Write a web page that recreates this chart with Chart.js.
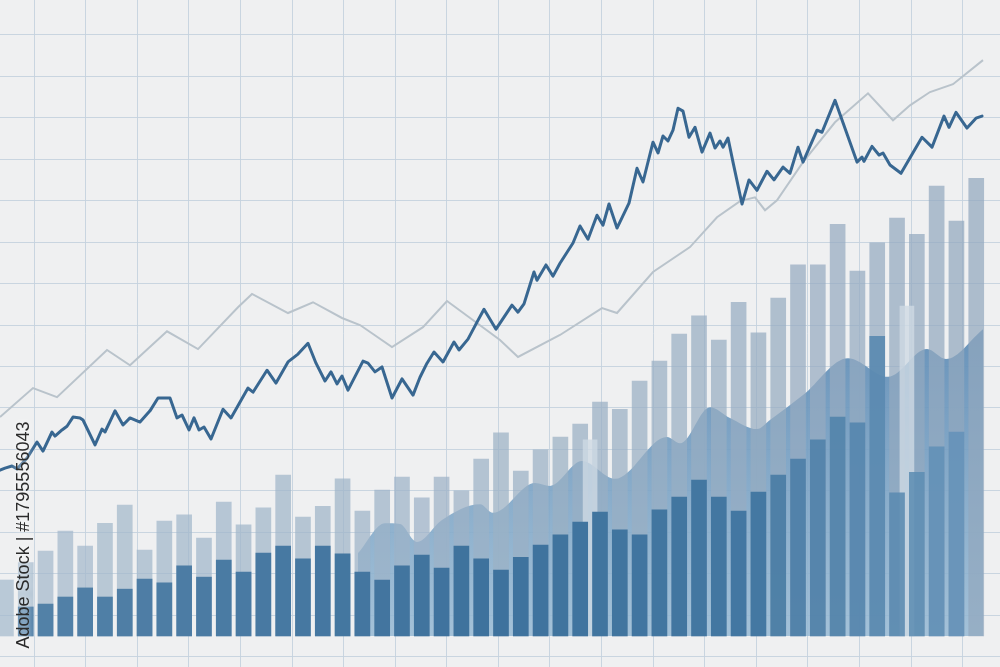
<!DOCTYPE html>
<html>
<head>
<meta charset="utf-8">
<script src="https://cdn.jsdelivr.net/npm/chart.js@4.4.1/dist/chart.umd.min.js"></script>
<style>
  html, body { margin: 0; padding: 0; background: #eff0f1; overflow: hidden; }
  #wrap { width: 1000px; height: 667px; }
</style>
</head>
<body>
<div id="wrap"><canvas id="chart" width="1000" height="667"></canvas></div>
<script>
// bar slots 0..49 (slot 0 is cut by the left edge)
const lightBars = [13.5, 17.7, 20.5, 25.3, 21.7, 27.2, 31.6, 20.7, 27.7, 29.2,
  23.6, 32.3, 26.8, 30.9, 38.8, 28.7, 31.3, 37.9, 30.1, 35.2,
  38.3, 33.3, 38.3, 35.0, 42.7, 49.0, 39.8, 44.9, 48.0, 51.1,
  56.4, 54.7, 61.5, 66.3, 72.8, 77.2, 71.4, 80.5, 73.1, 81.5,
  89.5, 89.5, 99.3, 88.0, 94.8, 100.8, 96.9, 108.5, 100.1, 110.4];

const darkBars = [null, 7.0, 7.7, 9.4, 11.6, 9.4, 11.3, 13.7, 12.8, 16.9,
  14.2, 18.3, 15.4, 20.0, 21.7, 18.6, 21.7, 19.8, 15.4, 13.5,
  16.9, 19.5, 16.4, 21.7, 18.6, 15.9, 19.0, 21.9, 24.4, 27.5,
  29.9, 25.6, 24.4, 30.4, 33.5, 37.6, 33.5, 30.1, 34.7, 38.8,
  42.7, 47.3, 52.8, 51.4, 72.3, 34.5, 39.5, 45.6, 49.2];

// two pale bars sitting between slots
const ghostSlots = [29.5, 45.5];
const ghostBars = [47.3, 79.6];

// jagged price line (x = % of time span)
const priceX = [0, 0.5, 1.2, 1.7, 2.7, 3.7, 4.3, 5.2, 5.5, 6.2,
  6.7, 7.3, 8.0, 8.3, 9.5, 10.2, 10.5, 11.5, 12.3, 13.0,
  14.0, 15.0, 15.8, 17.0, 17.7, 18.2, 18.9, 19.4, 19.9, 20.4,
  21.1, 22.3, 23.1, 24.8, 25.3, 26.7, 27.6, 28.8, 29.8, 30.8,
  31.6, 32.5, 33.1, 33.7, 34.2, 34.8, 36.3, 36.8, 37.5, 38.2,
  39.2, 40.2, 41.3, 42.0, 42.7, 43.4, 44.3, 45.4, 45.9, 46.8,
  47.7, 48.4, 49.6, 50.4, 51.2, 51.8, 52.4, 53.4, 53.7, 54.6,
  55.3, 56.0, 57.3, 58.0, 58.8, 59.7, 60.3, 60.9, 61.7, 62.9,
  63.7, 64.3, 65.3, 65.8, 66.3, 66.8, 67.3, 67.8, 68.3, 68.9,
  69.5, 70.2, 71.0, 71.5, 72.0, 72.3, 72.8, 73.3, 74.2, 74.9,
  75.7, 76.7, 77.4, 78.3, 79.0, 79.8, 80.3, 81.7, 82.2, 83.5,
  85.7, 86.2, 86.4, 87.2, 87.9, 88.3, 89.0, 90.1, 92.2, 93.2,
  94.4, 94.9, 95.6, 96.7, 97.6, 98.2];
const priceY = [40.0, 40.5, 41.0, 40.3, 42.9, 46.8, 44.6, 49.2, 48.2, 49.7,
  50.6, 52.8, 52.6, 52.1, 46.1, 49.9, 49.2, 54.3, 50.9, 52.6,
  51.6, 54.3, 57.4, 57.4, 52.6, 53.3, 49.7, 52.6, 49.7, 50.4,
  47.5, 54.7, 52.6, 59.8, 58.8, 64.1, 61.0, 66.1, 68.0, 70.6,
  65.8, 61.5, 63.7, 60.8, 62.7, 59.3, 66.3, 65.8, 63.7, 64.9,
  57.4, 62.0, 58.1, 62.4, 65.8, 68.5, 66.1, 70.9, 69.0, 71.6,
  75.7, 78.8, 74.0, 76.9, 79.8, 78.1, 80.1, 87.8, 85.8, 89.5,
  86.8, 89.9, 94.8, 98.9, 95.7, 101.5, 99.1, 104.2, 98.4, 104.4,
  112.8, 109.5, 119.1, 116.5, 120.6, 119.4, 122.0, 127.3, 126.6, 120.3,
  122.7, 116.7, 121.3, 117.7, 119.4, 117.9, 120.1, 114.3, 104.2, 110.0,
  107.5, 112.1, 110.0, 113.1, 111.6, 117.9, 114.3, 122.0, 121.5, 129.2,
  114.3, 115.5, 114.5, 118.1, 116.0, 116.5, 113.6, 111.6, 120.3, 117.9,
  125.4, 122.7, 126.3, 122.5, 124.9, 125.4];

// thin grey trend line
const trendX = [0, 3.3, 5.7, 10.7, 13.0, 16.7, 19.8, 23.8, 25.2, 28.8,
  31.3, 34.2, 36.0, 39.2, 42.3, 44.7, 50.0, 51.8, 56.0, 60.2,
  61.7, 65.3, 69.0, 71.7, 74.0, 75.5, 76.5, 77.7, 80.3, 83.5,
  86.8, 89.3, 91.0, 93.0, 95.3, 98.3];
const trendY = [52.8, 59.8, 57.6, 69.0, 65.3, 73.5, 69.2, 79.3, 82.5, 77.9,
  80.5, 76.7, 75.0, 69.7, 74.5, 80.8, 71.4, 67.3, 72.6, 79.1,
  77.9, 87.8, 93.8, 101.0, 104.9, 105.8, 102.7, 105.1, 114.3, 123.9,
  130.9, 124.4, 128.0, 131.2, 133.1, 138.9];

// filled area behind the bars
const areaX = [35.8, 38.5, 40.0, 41.7, 44.2, 48.0, 49.3, 53.5, 55.0, 58.2,
  61.5, 66.7, 68.0, 71.0, 73.0, 75.7, 77.0, 80.3, 84.8, 88.8,
  92.7, 94.6, 98.3];
const areaY = [20.0, 27.2, 27.0, 22.7, 28.0, 31.8, 29.7, 36.9, 36.2, 42.2,
  37.9, 48.0, 46.5, 55.2, 52.6, 49.9, 52.1, 58.1, 67.0, 62.5,
  69.2, 66.8, 74.0];

const stampText = 'Adobe Stock | #1795556043';

const pts = (xs, ys) => xs.map((x, i) => ({ x: x, y: ys[i] }));
const slots = (vals) => vals.map((v, i) => ({ x: i, y: v }));

function mix(a, b, t) {
  return a.map((v, i) => Math.round(v + (b[i] - v) * t));
}
function ramp(stops, t) {
  for (let i = 1; i < stops.length; i++) {
    if (t <= stops[i][0]) {
      const s = (t - stops[i - 1][0]) / (stops[i][0] - stops[i - 1][0]);
      return mix(stops[i - 1][1], stops[i][1], s);
    }
  }
  return stops[stops.length - 1][1];
}

const darkStops = [[0, [84, 130, 168]], [0.5, [62, 114, 157]], [0.8, [68, 120, 162]], [1, [100, 146, 184]]];
function darkColor(ctx) {
  const t = ctx.dataIndex / (darkBars.length - 1);
  const c = ramp(darkStops, t);
  const a = t > 0.8 ? 0.88 : 1;
  return `rgba(${c[0]},${c[1]},${c[2]},${a})`;
}
function lightColor(ctx) {
  const t = ctx.dataIndex / (lightBars.length - 1);
  const c = mix([164, 186, 205], [146, 168, 190], t);
  return `rgba(${c[0]},${c[1]},${c[2]},0.72)`;
}
function areaFill(ctx) {
  const chart = ctx.chart;
  if (!chart.chartArea) return 'rgba(110,152,190,0.7)';
  const y = chart.scales.y;
  const g = chart.ctx.createLinearGradient(0, y.getPixelForValue(75), 0, y.getPixelForValue(0));
  g.addColorStop(0, 'rgba(96,141,182,0.95)');
  g.addColorStop(1, 'rgba(150,185,212,0.85)');
  return g;
}

const gridColor = 'rgba(196,210,222,0.9)';

const stamp = {
  id: 'stamp',
  beforeDraw(chart) {
    const c = chart.ctx;
    c.save();
    c.fillStyle = '#eff0f1';
    c.fillRect(0, 0, chart.width, chart.height);
    c.restore();
  },
  afterDraw(chart) {
    const c = chart.ctx;
    c.save();
    c.translate(24, 535);
    c.rotate(-Math.PI / 2);
    c.font = '18px "Liberation Sans", Arial, sans-serif';
    c.textAlign = 'center';
    c.textBaseline = 'middle';
    c.shadowColor = 'rgba(255,255,255,0.95)';
    c.shadowBlur = 6;
    c.fillStyle = '#2b2b2b';
    c.fillText(stampText, 0, 0);
    c.restore();
  }
};

new Chart(document.getElementById('chart'), {
  type: 'bar',
  data: {
    datasets: [
      {
        type: 'line', label: 'price', data: pts(priceX, priceY), xAxisID: 'xt',
        borderColor: '#386791', borderWidth: 3, pointRadius: 0, tension: 0,
        borderJoinStyle: 'round', borderCapStyle: 'round', order: 0
      },
      {
        type: 'line', label: 'trend', data: pts(trendX, trendY), xAxisID: 'xt',
        borderColor: '#b9c3cb', borderWidth: 2, pointRadius: 0, tension: 0, order: 1
      },
      {
        label: 'volume', data: slots(darkBars), xAxisID: 'x',
        backgroundColor: darkColor, barThickness: 15, grouped: false, order: 2
      },
      {
        label: 'ghost', data: pts(ghostSlots, ghostBars), xAxisID: 'x',
        backgroundColor: 'rgba(206,217,227,0.8)', barThickness: 14, grouped: false, order: 3
      },
      {
        label: 'orders', data: slots(lightBars), xAxisID: 'x',
        backgroundColor: lightColor, barThickness: 15, grouped: false, order: 4
      },
      {
        type: 'line', label: 'area', data: pts(areaX, areaY), xAxisID: 'xt',
        borderWidth: 0, pointRadius: 0, cubicInterpolationMode: 'monotone',
        fill: 'origin', backgroundColor: areaFill, order: 5
      }
    ]
  },
  options: {
    responsive: false,
    animation: false,
    layout: { padding: 0 },
    plugins: { legend: { display: false }, tooltip: { enabled: false } },
    scales: {
      x: { type: 'linear', min: -0.3, max: 50.2, offset: false, display: false, grid: { offset: false } },
      xt: {
        type: 'linear', position: 'bottom', min: 0, max: 100, offset: false,
        ticks: { display: false }, border: { display: false },
        grid: { color: gridColor, drawTicks: false, lineWidth: 1, offset: false },
        afterBuildTicks(axis) {
          const t = [];
          for (let v = 3.4; v < 100; v += 5.16) t.push({ value: v });
          axis.ticks = t;
        }
      },
      y: {
        type: 'linear', min: -7.48, max: 153.4,
        ticks: { display: false }, border: { display: false },
        grid: { color: gridColor, drawTicks: false, lineWidth: 1 },
        afterBuildTicks(axis) {
          const t = [];
          for (let v = -5; v < 153; v += 10) t.push({ value: v });
          axis.ticks = t;
        }
      }
    }
  },
  plugins: [stamp]
});
</script>
</body>
</html>
